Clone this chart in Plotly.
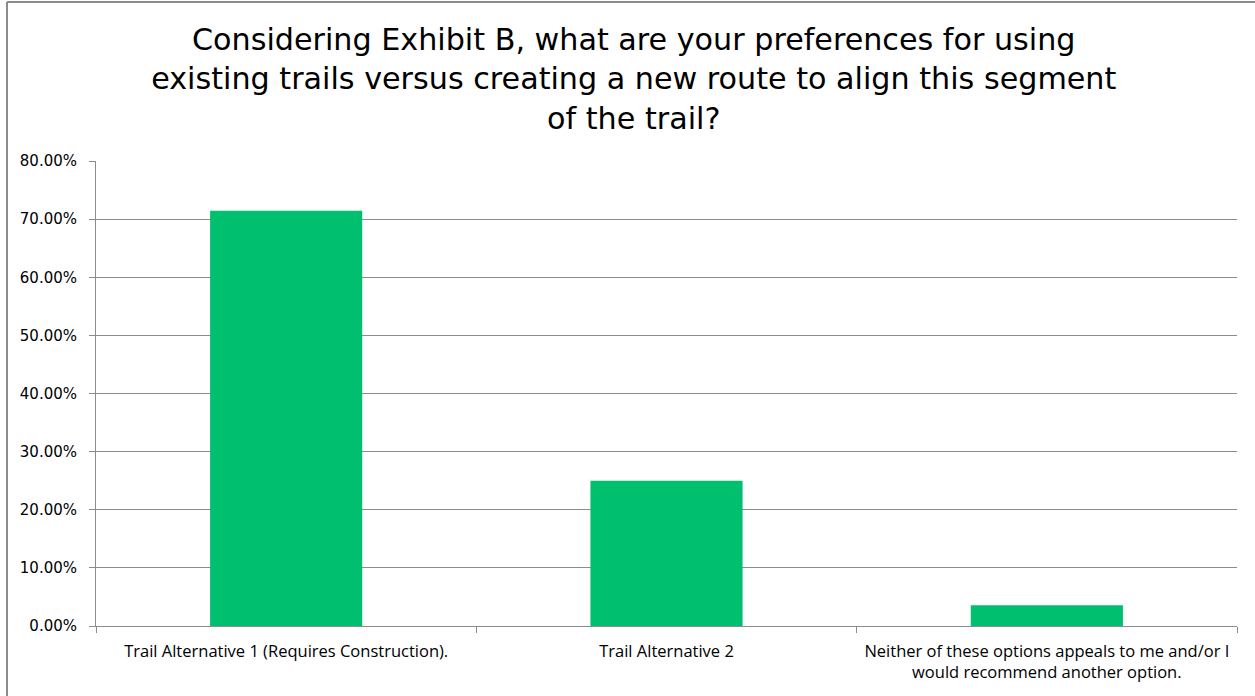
import plotly.graph_objects as go

categories = [
    "Trail Alternative 1 (Requires Construction).",
    "Trail Alternative 2",
    "Neither of these options appeals to me and/or I<br>would recommend another option.",
]
values = [0.7143, 0.25, 0.0357]
title_text = ("Considering Exhibit B, what are your preferences for using<br>"
              "existing trails versus creating a new route to align this segment<br>"
              "of the trail?")

GRAY = "#8c8c8c"

fig = go.Figure(go.Bar(x=categories, y=values, marker=dict(color="#00BF6F", line=dict(width=0)),
                       hoverinfo="x+y"))

fig.update_layout(
    width=1255, height=696,
    paper_bgcolor="white", plot_bgcolor="white",
    margin=dict(l=96, r=18, t=161, b=70),
    bargap=0.6,
    showlegend=False,
    title=dict(text=title_text, x=0.505, xanchor="center", y=0.928, yanchor="top",
               yref="container",
               font=dict(family="DejaVu Sans", size=30.2, color="black")),
    font=dict(family="Open Sans, Liberation Sans", size=13, color="black"),
)
fig.update_yaxes(range=[0, 0.8], dtick=0.1, tickformat=".2%", showgrid=True, gridcolor=GRAY,
                 gridwidth=1, showline=True, linecolor=GRAY, linewidth=1, ticks="outside",
                 ticklen=6, tickcolor=GRAY, zeroline=False, ticklabelstandoff=9,
                 tickfont=dict(family="DejaVu Sans", size=15, color="black"))
fig.update_xaxes(showline=True, linecolor=GRAY, linewidth=1, ticks="outside", tickson="boundaries",
                 ticklen=6, tickcolor=GRAY, showgrid=False, ticklabelstandoff=10,
                 tickfont=dict(family="Open Sans", size=16.5, color="black"))

# outer chart frame (extends beyond the image on right and bottom)
fig.add_shape(type="line", xref="paper", yref="paper", x0=-0.078, x1=-0.078, y0=-0.2, y1=1.342,
              line=dict(color=GRAY, width=2))
fig.add_shape(type="line", xref="paper", yref="paper", x0=-0.078, x1=1.05, y0=1.342, y1=1.342,
              line=dict(color=GRAY, width=2))

fig.write_html("out.html", config={"displayModeBar": False},
               post_script="document.body.style.margin='0';")
